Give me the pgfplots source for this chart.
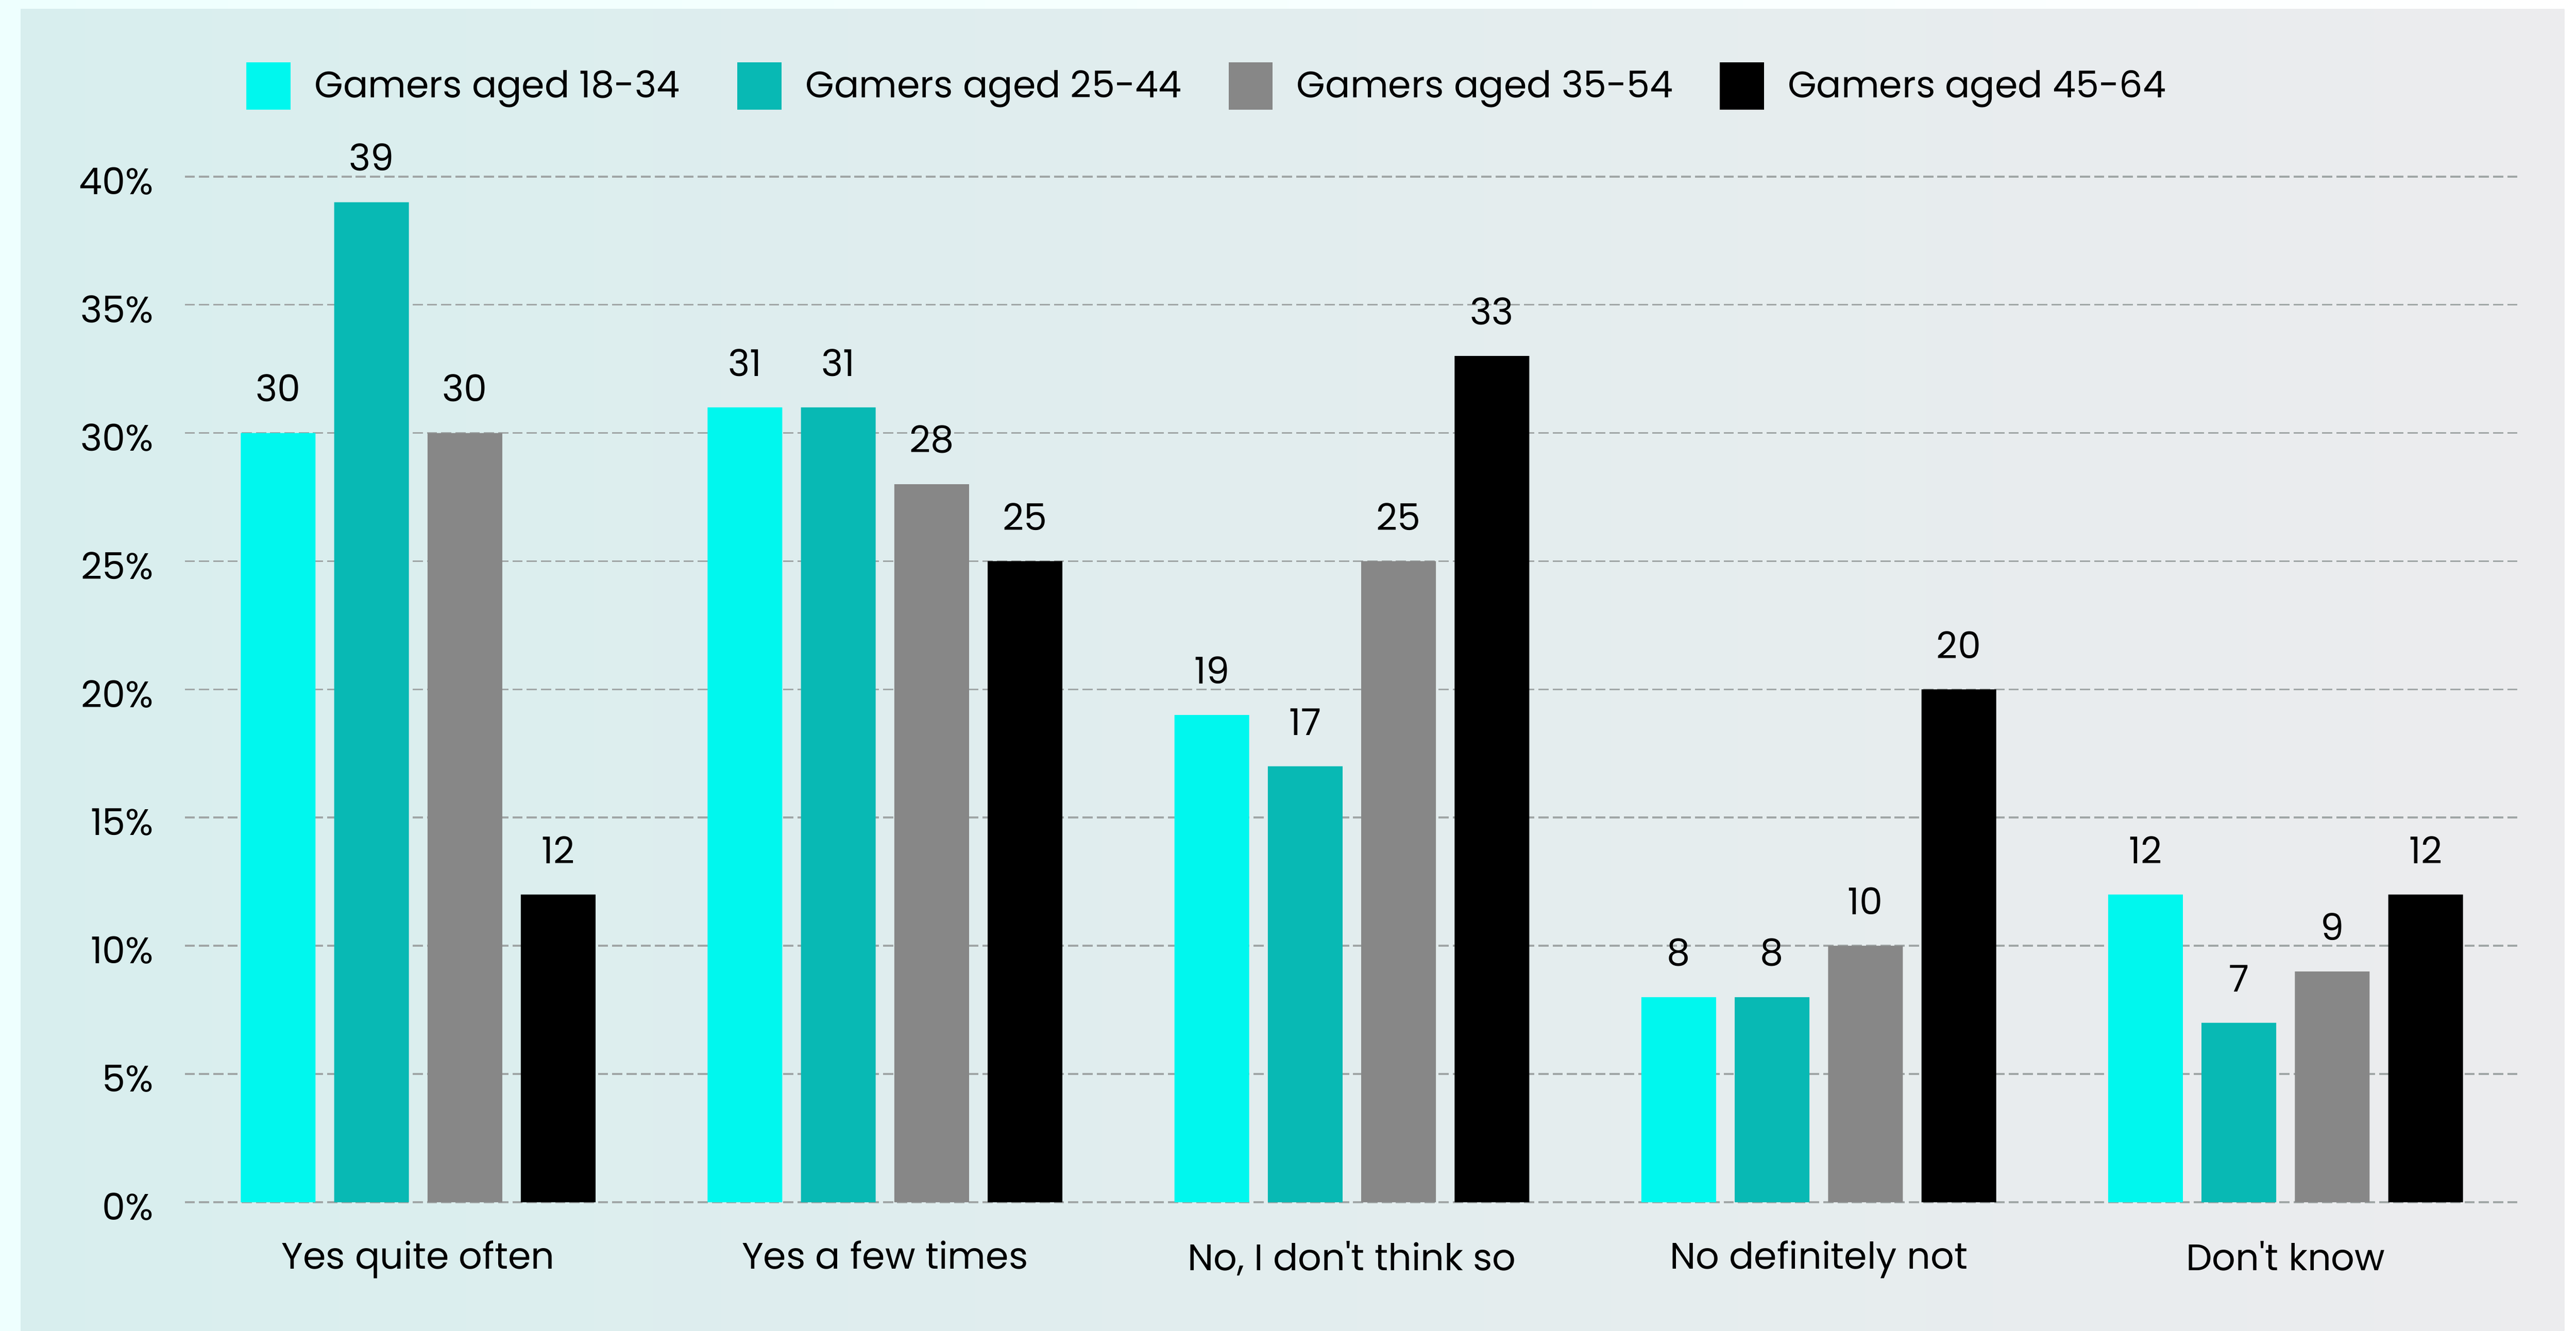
\documentclass[border=0pt]{standalone}
\usepackage{pgfplots}
\pgfplotsset{compat=1.18}
\usepackage{fontspec}
\setmainfont{Poppins}
\definecolor{cA}{RGB}{0,247,238}
\definecolor{cB}{RGB}{8,185,180}
\definecolor{cC}{RGB}{135,135,135}
\definecolor{cD}{RGB}{0,0,0}
\definecolor{gridc}{RGB}{160,166,166}
\definecolor{bgL}{RGB}{216,238,238}
\definecolor{bgR}{RGB}{236,236,238}
\definecolor{outL}{RGB}{238,255,254}
\begin{document}
\begin{tikzpicture}
\shade[left color=outL, right color=white] (0,0) rectangle (1012.4bp,523.2bp);
\shade[left color=bgL, right color=bgR] (8.2bp,0) rectangle (1007.8bp,519.6bp);
\begin{axis}[
  at={(72.6bp,50.6bp)}, anchor=south west,
  scale only axis, width=917.4bp, height=403.2bp,
  xmin=-0.5, xmax=4.5, ymin=0, ymax=40,
  clip=false,
  ybar=0pt, bar width=0.16,
  axis line style={draw=none},
  major tick length=0pt,
  xtick={0,1,2,3,4},
  xticklabels={Yes quite often, Yes a few times, {No, I don\textquotesingle{}t think so}, No definitely not, Don\textquotesingle{}t know},
  ytick={0,5,...,40},
  yticklabel={\pgfmathprintnumber{\tick}\%},
  /pgf/number format/assume math mode=true,
  ymajorgrids,
  grid style={gridc, line width=0.75bp, dash pattern=on 4bp off 1.6bp},
  tick label style={font=\fontsize{14.5bp}{17bp}\selectfont, text=black},
  yticklabel style={inner sep=0pt, anchor=east, xshift=-12bp, yshift=-1.8bp},
  xticklabel style={inner sep=0pt, anchor=north, yshift=-15bp},
  nodes near coords,
  every node near coord/.append style={font=\fontsize{14.5bp}{17bp}\selectfont, text=black, anchor=south, inner sep=0pt, yshift=12bp},
  legend image code/.code={\path[#1,draw=none] (0bp,-9.3bp) rectangle (17.4bp,9.3bp);},
  legend cell align=left,
  legend columns=4,
  legend style={draw=none, fill=none, inner sep=0pt, outer sep=0pt,
    at={(axis cs:-0.368,44.46)}, anchor=north west,
    font=\fontsize{14.5bp}{17bp}\selectfont,
    nodes={inner sep=0pt},
    /tikz/every odd column/.append style={column sep=9.4bp},
    /tikz/every even column/.append style={column sep=0pt}},
]
\addplot[fill=cA, draw=none, bar shift=-0.3] coordinates {(0,30) (1,31) (2,19) (3,8) (4,12)};
\addlegendentry{\makebox[166.2bp][l]{Gamers aged 18-34}}
\addplot[fill=cB, draw=none, bar shift=-0.1] coordinates {(0,39) (1,31) (2,17) (3,8) (4,7)};
\addlegendentry{\makebox[166.2bp][l]{Gamers aged 25-44}}
\addplot[fill=cC, draw=none, bar shift=0.1] coordinates {(0,30) (1,28) (2,25) (3,10) (4,9)};
\addlegendentry{\makebox[166.2bp][l]{Gamers aged 35-54}}
\addplot[fill=cD, draw=none, bar shift=0.3] coordinates {(0,12) (1,25) (2,33) (3,20) (4,12)};
\addlegendentry{\makebox[166.2bp][l]{Gamers aged 45-64}}
\end{axis}
\pgfresetboundingbox
\useasboundingbox (0,0) rectangle (1012.4bp,523.2bp);
\end{tikzpicture}
\end{document}
